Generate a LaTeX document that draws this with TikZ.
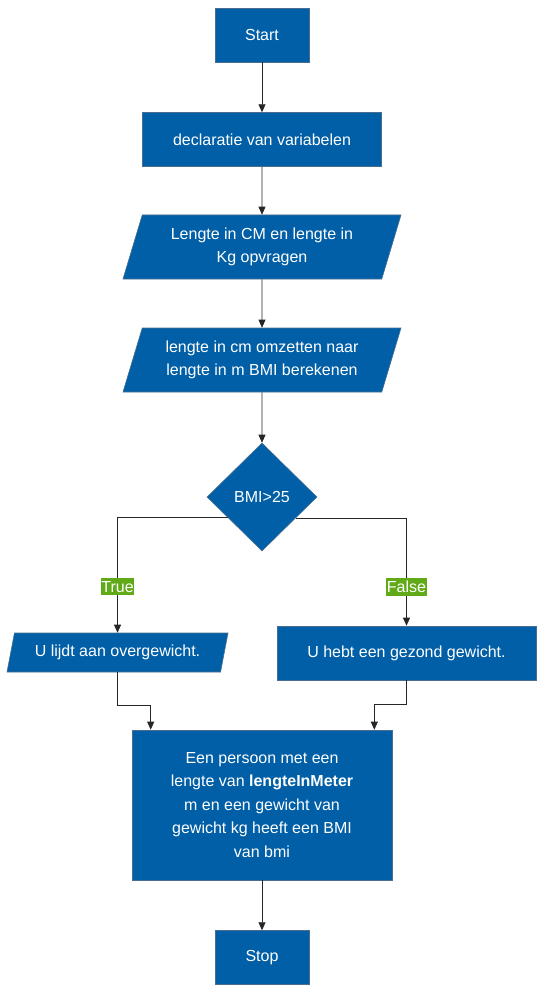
\documentclass[tikz,border=0pt]{standalone}
\usepackage{fontspec}
\setmainfont{Liberation Sans}
\usepackage{xcolor}
\usetikzlibrary{arrows.meta, positioning, shapes.geometric}
\definecolor{boxblue}{HTML}{005FA6}
\definecolor{boxline}{HTML}{4A6E92}
\definecolor{labelgreen}{HTML}{60A917}

\begin{document}
\begin{tikzpicture}[
        x=1pt, y=-1pt,
        >={Triangle[length=8pt, width=7pt]},
        every node/.style={font=\fontsize{16}{23.5}\selectfont},
        block/.style={draw=boxline, line width=0.6pt, fill=boxblue, text=white, align=center, inner sep=2pt},
        terminal/.style={block, minimum width=94pt, minimum height=54pt},
        process/.style={block, minimum height=54pt},
        io/.style={block, trapezium, trapezium left angle=63.4, trapezium right angle=116.6, trapezium stretches body, inner sep=0pt},
        decision/.style={block, diamond, minimum width=110pt, minimum height=108pt, inner sep=0pt},
        branch/.style={fill=labelgreen, text=white, inner xsep=0.5pt, inner ysep=3pt},
        flow/.style={->, line width=0.7pt, draw=black!85}
    ]
        \useasboundingbox (0,0) rectangle (544,992);

        \node[terminal] (start) at (262,35) {Start};
        \node[process, minimum width=239pt, below=50pt of start] (decl) {declaratie van variabelen};
        \node[io, minimum width=278pt, minimum height=64pt] (ask) at (262,247) {Lengte in CM en lengte in\\ Kg opvragen};
        \node[io, minimum width=278pt, minimum height=64pt] (calc) at (262,360) {lengte in cm omzetten naar\\ lengte in m BMI berekenen};
        \node[decision] (cond) at (262,497) {BMI>25};

        \node[io, minimum width=221pt, minimum height=39pt] (heavy) at (117.5,652.5) {U lijdt aan overgewicht.};
        \node[process, minimum width=259pt] (healthy) at (406.5,653) {U hebt een gezond gewicht.};

        \node[block, minimum width=260pt, minimum height=150pt] (result) at (262,805) {Een persoon met een\\ lengte van \textbf{lengteInMeter}\\ m en een gewicht van\\ gewicht kg heeft een BMI\\ van bmi};
        \node[terminal, below=50pt of result] (stop) {Stop};

        \coordinate (inL) at ([xshift=19pt]result.north west);
        \coordinate (inR) at ([xshift=-18pt]result.north east);

        \draw[flow] (start) -- (decl);
        \draw[flow] (decl) -- (ask);
        \draw[flow] (ask) -- (calc);
        \draw[flow] (calc) -- (cond);
        \draw[flow] (cond.211.7) -| node[branch, pos=0.8] (yes) {True} (heavy);
        \draw[flow] (cond.328.3) -| node[branch, pos=0.82] (no) {False} (healthy);
        \draw[flow] (heavy.south) -- ++(0,33) -| (inL);
        \draw[flow] (healthy.south) -- ++(0,24) -| (inR);
        \draw[flow] (result) -- (stop);
    \end{tikzpicture}
\end{document}
